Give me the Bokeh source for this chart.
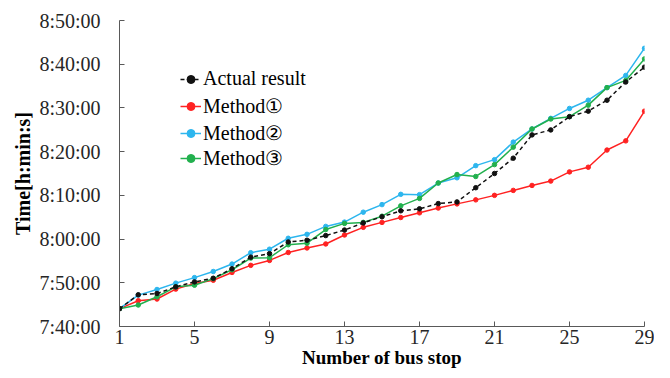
from bokeh.plotting import figure
from bokeh.models import FixedTicker, Legend, LegendItem, Range1d
from bokeh.embed import file_html
from bokeh.resources import INLINE

stops = list(range(1, 30))
actual = ["7:44:05", "7:47:15", "7:47:33", "7:49:04", "7:50:12", "7:51:02", "7:53:13", "7:55:52",
          "7:56:40", "7:59:20", "7:59:44", "8:00:48", "8:02:04", "8:03:42", "8:05:06", "8:06:28",
          "8:06:55", "8:08:07", "8:08:30", "8:11:45", "8:15:00", "8:18:30", "8:23:50", "8:24:58",
          "8:28:00", "8:29:16", "8:31:46", "8:35:56", "8:39:20"]
method1 = ["7:44:05", "7:45:54", "7:46:17", "7:48:33", "7:49:49", "7:50:35", "7:52:22", "7:53:59",
           "7:55:07", "7:56:56", "7:57:58", "7:58:53", "8:00:56", "8:02:41", "8:03:49", "8:04:56",
           "8:06:00", "8:07:06", "8:08:03", "8:08:58", "8:10:00", "8:11:08", "8:12:16", "8:13:16",
           "8:15:22", "8:16:26", "8:20:22", "8:22:28", "8:29:16"]
method2 = ["7:44:05", "7:47:11", "7:48:28", "7:49:55", "7:51:11", "7:52:35", "7:54:17", "7:56:53",
           "7:57:41", "8:00:11", "8:01:05", "8:02:54", "8:03:53", "8:06:09", "8:07:53", "8:10:14",
           "8:10:10", "8:12:49", "8:14:01", "8:16:48", "8:18:10", "8:22:11", "8:25:11", "8:27:37",
           "8:29:53", "8:31:46", "8:34:39", "8:37:26", "8:43:39"]
method3 = ["7:44:05", "7:44:55", "7:46:48", "7:49:04", "7:49:27", "7:50:57", "7:52:59", "7:55:39",
           "7:55:45", "7:58:42", "7:59:03", "8:02:11", "8:03:35", "8:03:49", "8:05:14", "8:07:36",
           "8:09:18", "8:12:50", "8:14:46", "8:14:19", "8:17:02", "8:21:02", "8:25:11", "8:27:28",
           "8:28:00", "8:30:38", "8:34:39", "8:36:18", "8:41:13"]
x_ticks = [1, 5, 9, 13, 17, 21, 25, 29]
y_tick_labels = ["7:40:00", "7:50:00", "8:00:00", "8:10:00", "8:20:00", "8:30:00", "8:40:00", "8:50:00"]
series_names = ["Actual result", "Method①", "Method②", "Method③"]


def to_sec(t):
    h, m, s = map(int, t.split(":"))
    return h * 3600 + m * 60 + s


FONT = "Liberation Serif"
y_ticks = [to_sec(t) for t in y_tick_labels]

p = figure(width=654, height=370, output_backend="svg", toolbar_location=None,
           x_range=Range1d(1, 29), y_range=Range1d(y_ticks[0], y_ticks[-1]),
           min_border_left=119, min_border_top=20, min_border_right=10, min_border_bottom=42)
p.outline_line_color = None
p.xgrid.visible = False
p.ygrid.visible = False
p.background_fill_color = "white"

for ax in (p.xaxis[0], p.yaxis[0]):
    ax.axis_line_color = "#595959"
    ax.major_tick_line_color = "#595959"
    ax.major_tick_in = 5
    ax.major_tick_out = 0
    ax.minor_tick_line_color = None
    ax.major_label_text_font = FONT
    ax.major_label_text_font_size = "20px"
    ax.major_label_text_color = "#262626"
    ax.axis_label_text_font = FONT
    ax.axis_label_text_font_style = "bold"
    ax.axis_label_text_color = "#000000"

p.xaxis.ticker = FixedTicker(ticks=x_ticks)
p.xaxis.major_label_standoff = 3
p.xaxis.axis_label = "Number of bus stop"
p.xaxis.axis_label_text_font_size = "19px"
p.xaxis.axis_label_standoff = 0

p.yaxis.ticker = FixedTicker(ticks=y_ticks)
p.yaxis.major_label_overrides = {v: l for v, l in zip(y_ticks, y_tick_labels)}
p.yaxis.major_label_standoff = 19
p.yaxis.axis_label = "Time[h:min:s]"
p.yaxis.axis_label_text_font_size = "20px"
p.yaxis.axis_label_standoff = 2

styles = {
    "Method①": dict(color="#FF2222", dash="solid"),
    "Method②": dict(color="#2DB6EE", dash="solid"),
    "Method③": dict(color="#22B04E", dash="solid"),
    "Actual result": dict(color="#111111", dash="4 3"),
}
data = {"Actual result": actual, "Method①": method1, "Method②": method2, "Method③": method3}

renderers = {}
for name in ["Method①", "Method②", "Method③", "Actual result"]:
    ys = [to_sec(t) for t in data[name]]
    st = styles[name]
    l = p.line(stops, ys, line_color=st["color"], line_width=1.5, line_dash=st["dash"])
    s = p.scatter(stops, ys, size=4.5, fill_color=st["color"], line_color=st["color"])
    renderers[name] = [l, s]

legend_y = [236, 208, 181, 156]
for name, ly in zip(series_names, legend_y):
    legend = Legend(items=[LegendItem(label=name, renderers=renderers[name])], location=(61, ly))
    legend.background_fill_alpha = 0
    legend.border_line_alpha = 0
    legend.label_text_font = FONT
    legend.label_text_font_size = "20px"
    legend.label_text_color = "#000000"
    legend.glyph_width = 21
    legend.glyph_height = 20
    legend.label_height = 20
    legend.label_standoff = 2
    legend.spacing = 0
    legend.padding = 0
    legend.margin = 0
    p.add_layout(legend)

open("out.html", "w").write(file_html(p, INLINE))
